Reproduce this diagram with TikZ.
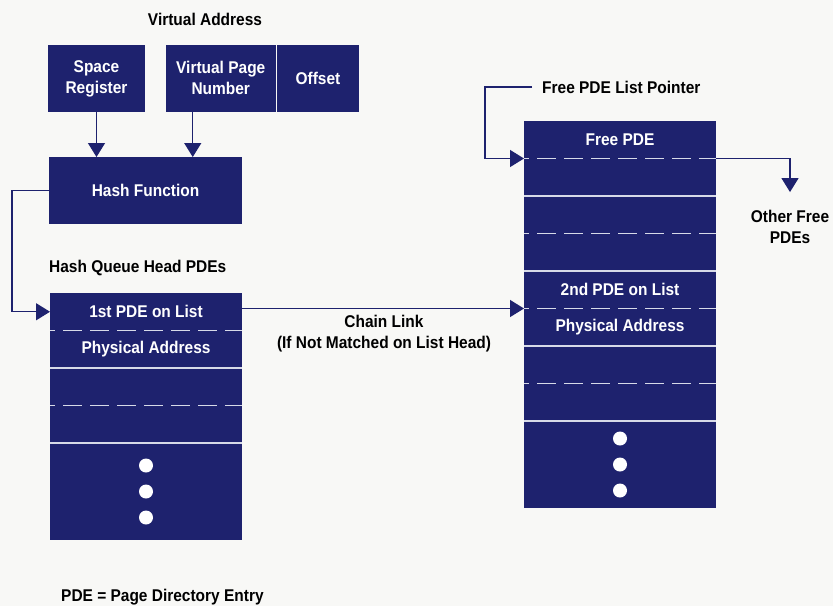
\documentclass[tikz,border=0pt]{standalone}
\usepackage{fontspec}
\newfontfamily\hpfont{Liberation Sans}[FakeStretch=0.91]
\usetikzlibrary{positioning, arrows.meta}
\definecolor{navy}{RGB}{30,34,110}
\definecolor{paper}{RGB}{248,248,246}
\definecolor{rulecol}{RGB}{215,218,232}
\tikzstyle{Arrow} = [
%Create custom arrow style:
navy, line width=1.3pt,
-{Triangle[length=14pt, width=17pt]}
]

\begin{document}
\begin{tikzpicture}[x=1pt, y=-1pt,
			font=\hpfont\bfseries\fontsize{17}{21}\selectfont,
			box/.style = {rectangle, fill=navy, text=white, align=center, inner sep=0pt, outer sep=0pt},
			cell/.style = {box, minimum width=192pt, minimum height=37.5pt},
			note/.style = {text=black, align=center, inner sep=0pt},
			solidsep/.style = {rulecol, line width=1.5pt},
			dashsep/.style = {rulecol, line width=1.5pt, dash pattern=on 19pt off 8pt, dash phase=14pt},
		]

		\fill[paper] (0,0) rectangle (833,606);
		\useasboundingbox (0,0) rectangle (833,606);

		\node[note](VA) at (205,19){Virtual Address};
		\node[box, minimum width=97pt, minimum height=67pt](SR) at (96.5,78.5){Space\\Register};
		\node[box, minimum width=109.5pt, minimum height=67pt](VPN) at (220.75,78){Virtual Page\\Number};
		\node[box, minimum width=82pt, minimum height=67pt, right=1.5pt of VPN](OFF){Offset};
		\node[box, minimum width=193pt, minimum height=67pt](HF) at (145.5,190.5){Hash Function};

		\draw[Arrow](SR.south)--(SR.south |- HF.north);
		\draw[Arrow]([xshift=-28pt]VPN.south)--([xshift=-28pt]VPN.south |- HF.north);

		% hash queue head list
		\node[note, anchor=west](HQ) at (49,268){Hash Queue Head PDEs};
		\node[cell](L1a) at (146,311.75){1st PDE on List};
		\node[cell, below=0pt of L1a](L1b){Physical Address};
		\node[cell, below=0pt of L1b](L2a){};
		\node[cell, below=0pt of L2a](L2b){};
		\node[cell, below=0pt of L2b, minimum height=97pt](L3){};
		\draw[dashsep](L1a.south west)--(L1a.south east);
		\draw[solidsep](L1b.south west)--(L1b.south east);
		\draw[dashsep](L2a.south west)--(L2a.south east);
		\draw[solidsep](L2b.south west)--(L2b.south east);
		\foreach \d in {-26,0,26}
			\fill[white]([yshift=\d pt]L3.center) circle (7pt);

		% second list
		\node[cell](R1a) at (620,139.75){Free PDE};
		\node[cell, below=0pt of R1a](R1b){};
		\node[cell, below=0pt of R1b](R2a){};
		\node[cell, below=0pt of R2a](R2b){};
		\node[cell, below=0pt of R2b](R3a){2nd PDE on List};
		\node[cell, below=0pt of R3a](R3b){Physical Address};
		\node[cell, below=0pt of R3b](R4a){};
		\node[cell, below=0pt of R4a](R4b){};
		\node[cell, below=0pt of R4b, minimum height=87pt](R5){};
		\draw[dashsep](R1a.south west)--(R1a.south east);
		\draw[solidsep](R1b.south west)--(R1b.south east);
		\draw[dashsep](R2a.south west)--(R2a.south east);
		\draw[solidsep](R2b.south west)--(R2b.south east);
		\draw[dashsep](R3a.south west)--(R3a.south east);
		\draw[solidsep](R3b.south west)--(R3b.south east);
		\draw[dashsep](R4a.south west)--(R4a.south east);
		\draw[solidsep](R4b.south west)--(R4b.south east);
		\foreach \d in {-26,0,26}
			\fill[white]([yshift=\d pt]R5.center) circle (7pt);

		\draw[Arrow](HF.west)--++(-37,0)|-(L1a.west);
		\draw[Arrow](L1a.east |- R3a.south)--(R3a.south west);
		\node[note](CL) at (384,334){Chain Link\\(If Not Matched on List Head)};

		\node[note, anchor=west](FP) at (542,87){Free PDE List Pointer};
		\draw[Arrow]([xshift=-10pt]FP.west)--++(-47,0)|-(R1a.south west);
		\node[note](OF) at (790,227){Other Free\\PDEs};
		\draw[Arrow](R1a.south east)-|([yshift=18pt]OF.north);

		\node[note, anchor=west](KEY) at (61,597){PDE = Page Directory Entry};
	\end{tikzpicture}
\end{document}
